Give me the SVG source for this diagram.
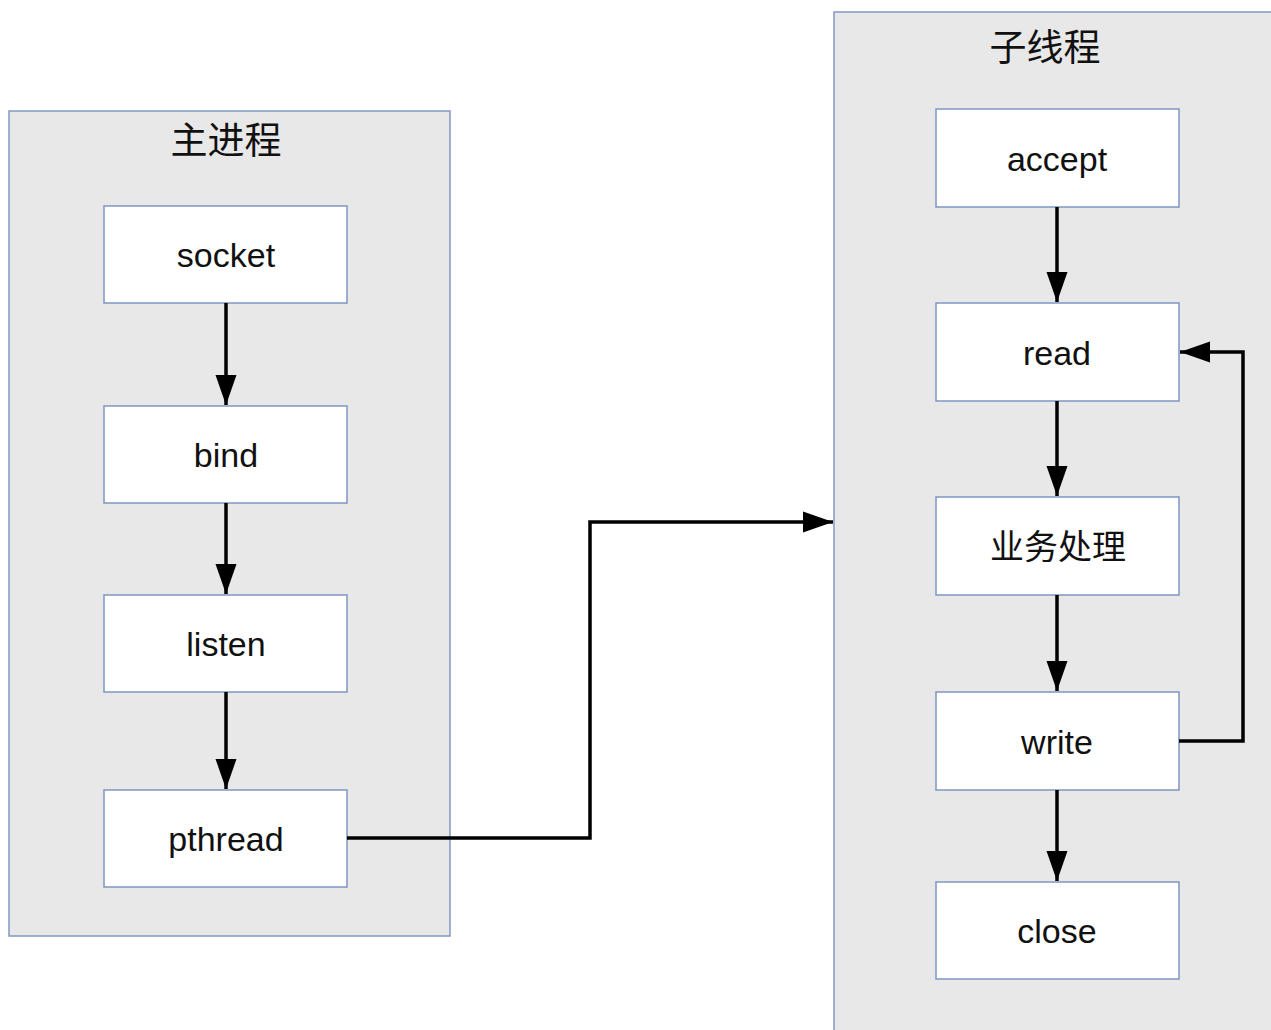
<svg xmlns="http://www.w3.org/2000/svg" width="1271" height="1030" viewBox="0 0 1271 1030">
<defs>
<style>
.cont{fill:#e8e8e8;stroke:#8298c4;stroke-width:1.5}
.node{fill:#ffffff;stroke:#7f95c2;stroke-width:1.5}
.lbl{font-family:"Liberation Sans",Arial,"Noto Sans CJK SC",sans-serif;font-size:34px;fill:#111;text-anchor:middle}
.ttl{font-family:"Noto Sans CJK SC","Liberation Sans",sans-serif;font-size:37px;fill:#111;text-anchor:middle}
.cjk{font-family:"Noto Sans CJK SC","Liberation Sans",sans-serif;font-size:34px;fill:#111;text-anchor:middle}
.edge{fill:none;stroke:#000;stroke-width:3.5}
</style>
<marker id="ah" markerUnits="userSpaceOnUse" markerWidth="32" markerHeight="24" refX="30" refY="11" orient="auto">
<path d="M0,0.5 L30,11 L0,21.5 Z" fill="#000"/>
</marker>
</defs>
<rect width="1271" height="1030" fill="#ffffff"/>
<g id="main-process">
<rect class="cont" x="9" y="111" width="441" height="825"/>
<text class="ttl" x="226" y="154">主进程</text>
</g>
<g id="sub-thread">
<rect class="cont" x="834" y="12" width="450" height="1030"/>
<text class="ttl" x="1045" y="61">子线程</text>
</g>
<g id="socket"><rect class="node" x="104" y="206" width="243" height="97"/><text class="lbl" x="226" y="267">socket</text></g>
<g id="bind"><rect class="node" x="104" y="406" width="243" height="97"/><text class="lbl" x="226" y="467">bind</text></g>
<g id="listen"><rect class="node" x="104" y="595" width="243" height="97"/><text class="lbl" x="226" y="656">listen</text></g>
<g id="pthread"><rect class="node" x="104" y="790" width="243" height="97"/><text class="lbl" x="226" y="851">pthread</text></g>
<g id="accept"><rect class="node" x="936" y="109" width="243" height="98"/><text class="lbl" x="1057" y="171">accept</text></g>
<g id="read"><rect class="node" x="936" y="303" width="243" height="98"/><text class="lbl" x="1057" y="365">read</text></g>
<g id="process"><rect class="node" x="936" y="497" width="243" height="98"/><text class="cjk" x="1058" y="559">业务处理</text></g>
<g id="write"><rect class="node" x="936" y="692" width="243" height="98"/><text class="lbl" x="1057" y="754">write</text></g>
<g id="close"><rect class="node" x="936" y="882" width="243" height="97"/><text class="lbl" x="1057" y="943">close</text></g>
<g id="connectors">
<path class="edge" d="M226,303 L226,405" marker-end="url(#ah)"/>
<path class="edge" d="M226,503 L226,594" marker-end="url(#ah)"/>
<path class="edge" d="M226,692 L226,789" marker-end="url(#ah)"/>
<path class="edge" d="M347,838 L590,838 L590,522 L833,522" marker-end="url(#ah)"/>
<path class="edge" d="M1057,207 L1057,302" marker-end="url(#ah)"/>
<path class="edge" d="M1057,401 L1057,496" marker-end="url(#ah)"/>
<path class="edge" d="M1057,595 L1057,691" marker-end="url(#ah)"/>
<path class="edge" d="M1057,790 L1057,881" marker-end="url(#ah)"/>
<path class="edge" d="M1179,741 L1243,741 L1243,352 L1180,352" marker-end="url(#ah)"/>
</g>
</svg>
